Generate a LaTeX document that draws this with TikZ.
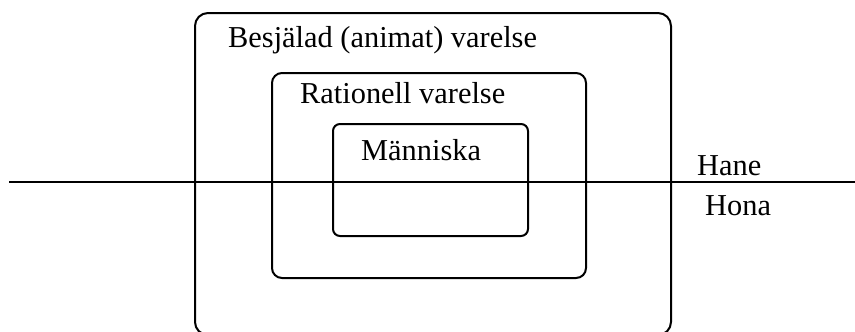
\documentclass[tikz,border=0pt]{standalone}
\usepackage{fontspec}
\setmainfont{Liberation Serif}
\begin{document}
\begin{tikzpicture}[x=1bp,y=-1bp,
  setbox/.style={draw=black,line width=2bp},
  lbl/.style={anchor=base west,inner sep=0pt,font=\fontsize{30.5}{34}\selectfont}]
\useasboundingbox (0,0) rectangle (855,331);
\clip (0,0) rectangle (855,331);
\draw[setbox,rounded corners=13bp] (195,13) rectangle (671,335);
\draw[setbox,rounded corners=10bp] (272,73) rectangle (586,278);
\draw[setbox,rounded corners=7bp] (333,124) rectangle (528,236);
\coordinate (lineL) at (9,182);
\coordinate (lineR) at (860,182);
\draw[line width=2bp] (lineL) -- (lineR);
\node[lbl] (besj) at (228,47) {Besjälad (animat) varelse};
\node[lbl] (rat) at (300,103) {Rationell varelse};
\node[lbl] (man) at (361,160) {Människa};
\node[lbl] (hane) at (697,175) {Hane};
\node[lbl] (hona) at (705,215) {Hona};
\end{tikzpicture}
\end{document}
